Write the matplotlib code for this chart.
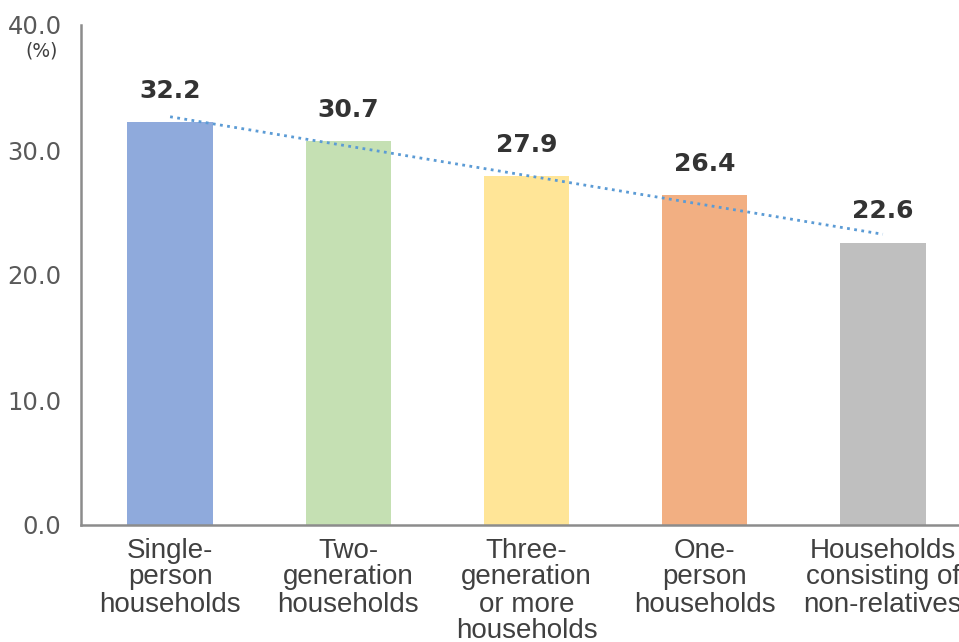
import matplotlib.pyplot as plt
import numpy as np

categories = ["Single-\nperson\nhouseholds", "Two-\ngeneration\nhouseholds",
              "Three-\ngeneration\nor more\nhouseholds", "One-\nperson\nhouseholds",
              "Households\nconsisting of\nnon-relatives"]
values = [32.2, 30.7, 27.9, 26.4, 22.6]
colors = ["#8FAADC", "#C5E0B3", "#FFE597", "#F2AF82", "#BFBFBF"]
yticks = [0.0, 10.0, 20.0, 30.0, 40.0]

fig = plt.figure(figsize=(9.59, 6.42), dpi=100)
ax = fig.add_axes([81 / 959, 117 / 642, 891 / 959, 500 / 642])

x = np.arange(len(values))
ax.bar(x, values, width=0.48, color=colors)

for xi, v in zip(x, values):
    ax.annotate(f"{v:.1f}", (xi, v), xytext=(0, 14), textcoords="offset points",
                ha="center", va="bottom", fontsize=18, fontweight="bold",
                color="#333333", family="DejaVu Sans")

# linear trend line
slope, intercept = np.polyfit(x, values, 1)
ax.plot(x, slope * x + intercept, color="#5B9BD5", linestyle=(0, (1, 1.6)),
        linewidth=2.0)

ax.set_xlim(-0.5, len(values) - 0.5)
ax.set_ylim(0, 40)
ax.set_yticks(yticks)
ax.set_yticklabels([f"{t:.1f}" for t in yticks], fontsize=17.5, color="#595959")
ax.set_xticks(x)
ax.set_xticklabels(categories, fontsize=20, color="#404040",
                   family="Liberation Sans", linespacing=1.05)
ax.tick_params(axis="both", length=0)
ax.tick_params(axis="x", pad=9)
ax.tick_params(axis="y", pad=14)

for side in ["top", "right"]:
    ax.spines[side].set_visible(False)
for side in ["left", "bottom"]:
    ax.spines[side].set_color("#8C8C8C")
    ax.spines[side].set_linewidth(1.8)

fig.text(42 / 959, 1 - 51 / 642, "(%)", fontsize=13.5, color="#404040",
         ha="center", va="center")

fig.savefig("out.png", dpi=100)
